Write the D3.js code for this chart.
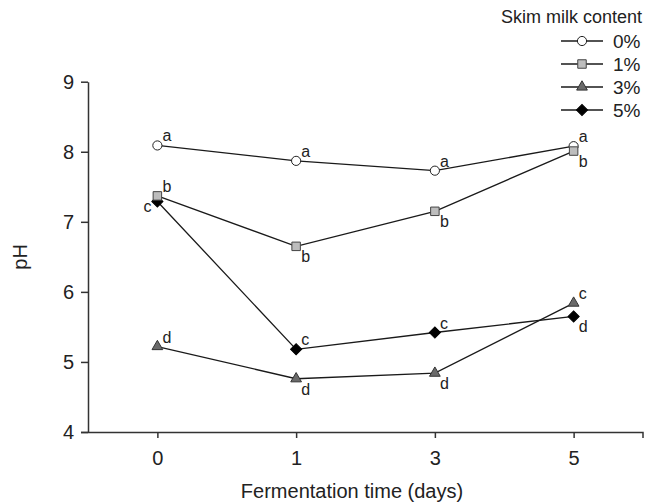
<!DOCTYPE html>
<html>
<head>
<meta charset="utf-8">
<script src="https://cdn.jsdelivr.net/npm/d3@7"></script>
<style>
  html, body { margin: 0; padding: 0; background: #fff; }
  svg { display: block; font-family: "Liberation Sans", Arial, sans-serif; }
</style>
</head>
<body>
<svg id="chart" width="646" height="503"></svg>
<script>
// ---- data ----
const days = ["0", "1", "3", "5"];
const seriesNames = ["0%", "1%", "3%", "5%"];
const ph0 = [8.09, 7.87, 7.73, 8.08];
const ph1 = [7.37, 6.65, 7.15, 8.01];
const ph3 = [5.22, 4.76, 4.84, 5.84];
const ph5 = [7.29, 5.18, 5.42, 5.65];
const letters0 = ["a", "a", "a", "a"];
const letters1 = ["b", "b", "b", "b"];
const letters3 = ["d", "d", "d", "c"];
const letters5 = ["c", "c", "c", "d"];
const yTicks = [4, 5, 6, 7, 8, 9];
const legendTitle = "Skim milk content";
const xTitle = "Fermentation time (days)";
const yTitle = "pH";

// label placement (u = above right, b = below right, l = left)
const place0 = ["u", "u", "u", "u"];
const place1 = ["u", "b", "b", "b"];
const place3 = ["u", "b", "b", "u"];
const place5 = ["l", "u", "u", "b"];

const series = [
  { name: seriesNames[0], values: ph0, letters: letters0, place: place0, shape: "circle", fill: "#ffffff", stroke: "#222" },
  { name: seriesNames[1], values: ph1, letters: letters1, place: place1, shape: "square", fill: "#bdbdbd", stroke: "#444" },
  { name: seriesNames[2], values: ph3, letters: letters3, place: place3, shape: "triangle", fill: "#6a6a6a", stroke: "#333" },
  { name: seriesNames[3], values: ph5, letters: letters5, place: place5, shape: "diamond", fill: "#000000", stroke: "#000" }
];
const drawOrder = [0, 2, 3, 1];

// ---- layout ----
const svg = d3.select("#chart");
const plotLeft = 88, plotRight = 643, plotTop = 81.7, plotBottom = 432;

const x = d3.scalePoint().domain(days).range([plotLeft, plotRight]).padding(0.5);
const y = d3.scaleLinear().domain([4, 9]).range([plotBottom, plotTop]);

const axisColor = "#333";

// y axis
const yAxis = svg.append("g").attr("transform", `translate(${plotLeft},0)`)
  .call(d3.axisLeft(y).tickValues(yTicks).tickFormat(d3.format("d")).tickSize(7).tickSizeOuter(0).tickPadding(7));
yAxis.select(".domain").attr("stroke", axisColor).attr("stroke-width", 1.5);
yAxis.selectAll(".tick line").attr("stroke", axisColor).attr("stroke-width", 1.5);
yAxis.selectAll(".tick text").attr("font-size", 20).attr("fill", "#222")
  .attr("font-family", "Liberation Sans, Arial, sans-serif");

// x axis
const xAxis = svg.append("g").attr("transform", `translate(0,${plotBottom})`)
  .call(d3.axisBottom(x).tickSize(6).tickSizeOuter(0).tickPadding(13));
xAxis.select(".domain").attr("stroke", axisColor).attr("stroke-width", 1.5)
  .attr("d", `M${plotLeft - 7},0.5H${plotRight}V6`);
xAxis.selectAll(".tick line").attr("stroke", axisColor).attr("stroke-width", 1.5);
xAxis.selectAll(".tick text").attr("font-size", 20).attr("fill", "#222")
  .attr("font-family", "Liberation Sans, Arial, sans-serif");

// axis titles
svg.append("text").attr("x", 352).attr("y", 498).attr("text-anchor", "middle")
  .attr("font-size", 20).attr("fill", "#222").text(xTitle);
svg.append("text").attr("transform", `translate(27,${(plotTop + plotBottom) / 2}) rotate(-90)`)
  .attr("text-anchor", "middle").attr("font-size", 20).attr("fill", "#222").text(yTitle);

// symbols
function symbolPath(shape) {
  if (shape === "circle") return d3.symbol(d3.symbolCircle, 66)();
  if (shape === "square") return d3.symbol(d3.symbolSquare, 72)();
  if (shape === "triangle") return d3.symbol(d3.symbolTriangle, 50)();
  return d3.symbol(d3.symbolSquare, 62)();
}
function symbolTransform(shape, px, py) {
  return shape === "diamond" ? `translate(${px},${py}) rotate(45)` : `translate(${px},${py})`;
}

const line = d3.line().x((d, i) => x(days[i])).y(d => y(d));

// lines
series.forEach(s => {
  svg.append("path").attr("d", line(s.values)).attr("fill", "none")
    .attr("stroke", "#1a1a1a").attr("stroke-width", 1.3);
});

// markers
drawOrder.forEach(k => {
  const s = series[k];
  svg.append("g").selectAll("path").data(s.values).join("path")
    .attr("d", symbolPath(s.shape))
    .attr("transform", (d, i) => symbolTransform(s.shape, x(days[i]), y(d)))
    .attr("fill", s.fill).attr("stroke", s.stroke).attr("stroke-width", 1);
});

// letters
series.forEach(s => {
  svg.append("g").selectAll("text").data(s.values).join("text")
    .attr("x", (d, i) => x(days[i]) + (s.place[i] === "l" ? -6 : 5))
    .attr("y", (d, i) => y(d) + (s.place[i] === "u" ? -4 : s.place[i] === "b" ? 16 : 10))
    .attr("text-anchor", (d, i) => s.place[i] === "l" ? "end" : "start")
    .attr("font-size", 16).attr("fill", "#222")
    .text((d, i) => s.letters[i]);
});

// legend
svg.append("text").attr("x", 642).attr("y", 23).attr("text-anchor", "end")
  .attr("font-size", 18).attr("fill", "#222").text(legendTitle);
const legY = d3.scalePoint().domain(seriesNames).range([41, 110]);
series.forEach(s => {
  const ly = legY(s.name);
  const g = svg.append("g");
  g.append("line").attr("x1", 561).attr("x2", 603).attr("y1", ly).attr("y2", ly)
    .attr("stroke", "#1a1a1a").attr("stroke-width", 1.3);
  g.append("path").attr("d", symbolPath(s.shape))
    .attr("transform", symbolTransform(s.shape, 582, ly))
    .attr("fill", s.fill).attr("stroke", s.stroke).attr("stroke-width", 1);
  g.append("text").attr("x", 613).attr("y", ly + 6.5).attr("font-size", 19)
    .attr("fill", "#222").text(s.name);
});
</script>
</body>
</html>
